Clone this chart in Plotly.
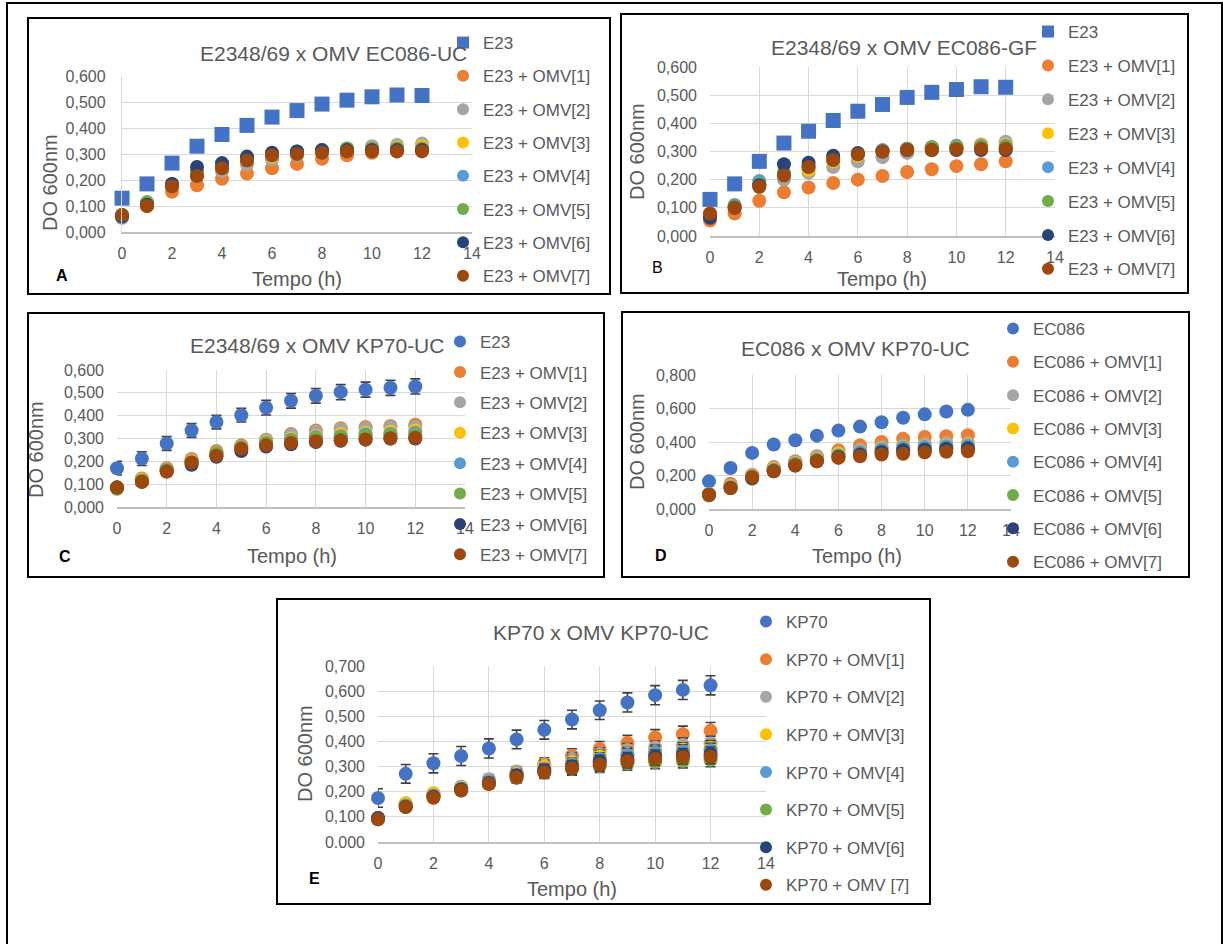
import plotly.graph_objects as go

W, H = 1223, 944

hours = list(range(13))
x_ticks = [0, 2, 4, 6, 8, 10, 12, 14]
x_ticktext = ["0", "2", "4", "6", "8", "10", "12", "14"]

colors = ["#4472C4", "#ED7D31", "#A5A5A5", "#FFC000", "#5B9BD5", "#70AD47", "#264478", "#9E480E"]

# ---------------- Panel A: E2348/69 x OMV EC086-UC ----------------
a_names = ["E23", "E23 + OMV[1]", "E23 + OMV[2]", "E23 + OMV[3]", "E23 + OMV[4]",
           "E23 + OMV[5]", "E23 + OMV[6]", "E23 + OMV[7]"]
a_e23 = [0.130, 0.185, 0.265, 0.330, 0.375, 0.410, 0.442, 0.467, 0.492, 0.507, 0.520, 0.527, 0.525]
a_omv1 = [0.060, 0.100, 0.155, 0.180, 0.205, 0.225, 0.245, 0.262, 0.282, 0.295, 0.305, 0.310, 0.315]
a_omv2 = [0.065, 0.105, 0.175, 0.215, 0.235, 0.260, 0.280, 0.295, 0.310, 0.322, 0.330, 0.335, 0.340]
a_omv3 = [0.065, 0.105, 0.175, 0.220, 0.245, 0.275, 0.290, 0.300, 0.310, 0.315, 0.320, 0.325, 0.330]
a_omv4 = [0.055, 0.105, 0.180, 0.225, 0.250, 0.280, 0.295, 0.305, 0.310, 0.315, 0.315, 0.320, 0.320]
a_omv5 = [0.065, 0.115, 0.185, 0.230, 0.255, 0.285, 0.300, 0.310, 0.315, 0.320, 0.320, 0.320, 0.320]
a_omv6 = [0.060, 0.105, 0.185, 0.250, 0.265, 0.290, 0.305, 0.310, 0.315, 0.315, 0.315, 0.315, 0.315]
a_omv7 = [0.065, 0.100, 0.175, 0.215, 0.245, 0.275, 0.295, 0.300, 0.305, 0.310, 0.310, 0.310, 0.310]
a_series = [a_e23, a_omv1, a_omv2, a_omv3, a_omv4, a_omv5, a_omv6, a_omv7]
a_yticks = [0, 0.1, 0.2, 0.3, 0.4, 0.5, 0.6]
a_yticktext = ["0,000", "0,100", "0,200", "0,300", "0,400", "0,500", "0,600"]

# ---------------- Panel B: E2348/69 x OMV EC086-GF ----------------
b_names = a_names
b_e23 = [0.130, 0.185, 0.265, 0.330, 0.372, 0.410, 0.443, 0.467, 0.492, 0.510, 0.520, 0.530, 0.528]
b_omv1 = [0.055, 0.080, 0.125, 0.155, 0.172, 0.188, 0.200, 0.213, 0.227, 0.237, 0.248, 0.255, 0.265]
b_omv2 = [0.070, 0.100, 0.175, 0.200, 0.225, 0.245, 0.265, 0.280, 0.295, 0.305, 0.315, 0.325, 0.335]
b_omv3 = [0.075, 0.105, 0.180, 0.215, 0.235, 0.265, 0.285, 0.300, 0.310, 0.315, 0.320, 0.325, 0.325]
b_omv4 = [0.075, 0.110, 0.195, 0.225, 0.250, 0.275, 0.290, 0.305, 0.310, 0.315, 0.320, 0.320, 0.320]
b_omv5 = [0.075, 0.105, 0.185, 0.225, 0.245, 0.275, 0.290, 0.300, 0.310, 0.315, 0.315, 0.315, 0.315]
b_omv6 = [0.065, 0.100, 0.180, 0.255, 0.260, 0.285, 0.295, 0.300, 0.305, 0.305, 0.305, 0.305, 0.305]
b_omv7 = [0.080, 0.100, 0.175, 0.215, 0.245, 0.270, 0.290, 0.300, 0.305, 0.305, 0.308, 0.310, 0.310]
b_series = [b_e23, b_omv1, b_omv2, b_omv3, b_omv4, b_omv5, b_omv6, b_omv7]
b_yticks = a_yticks
b_yticktext = a_yticktext

# ---------------- Panel C: E2348/69 x OMV KP70-UC ----------------
c_names = a_names
c_e23 = [0.170, 0.212, 0.278, 0.335, 0.372, 0.402, 0.435, 0.465, 0.487, 0.503, 0.514, 0.522, 0.528]
c_omv1 = [0.085, 0.125, 0.170, 0.210, 0.245, 0.270, 0.295, 0.320, 0.335, 0.345, 0.350, 0.355, 0.360]
c_omv2 = [0.085, 0.120, 0.165, 0.205, 0.240, 0.265, 0.295, 0.315, 0.330, 0.340, 0.345, 0.350, 0.350]
c_omv3 = [0.085, 0.120, 0.160, 0.200, 0.235, 0.260, 0.285, 0.300, 0.310, 0.320, 0.325, 0.330, 0.335]
c_omv4 = [0.085, 0.115, 0.160, 0.195, 0.230, 0.255, 0.280, 0.295, 0.305, 0.310, 0.318, 0.320, 0.325]
c_omv5 = [0.080, 0.115, 0.160, 0.195, 0.235, 0.260, 0.280, 0.290, 0.300, 0.305, 0.310, 0.315, 0.315]
c_omv6 = [0.085, 0.110, 0.155, 0.185, 0.220, 0.245, 0.265, 0.275, 0.285, 0.290, 0.295, 0.300, 0.300]
c_omv7 = [0.085, 0.110, 0.155, 0.195, 0.225, 0.255, 0.270, 0.280, 0.288, 0.292, 0.296, 0.300, 0.303]
c_series = [c_e23, c_omv1, c_omv2, c_omv3, c_omv4, c_omv5, c_omv6, c_omv7]
c_err_e23 = [0.030, 0.030, 0.030, 0.030, 0.030, 0.030, 0.032, 0.032, 0.032, 0.033, 0.033, 0.033, 0.033]
c_err_omv = [0.012, 0.012, 0.012, 0.012, 0.012, 0.014, 0.015, 0.015, 0.016, 0.016, 0.016, 0.017, 0.017]
c_yticks = a_yticks
c_yticktext = a_yticktext

# ---------------- Panel D: EC086 x OMV KP70-UC ----------------
d_names = ["EC086", "EC086 + OMV[1]", "EC086 + OMV[2]", "EC086 + OMV[3]", "EC086 + OMV[4]",
           "EC086 + OMV[5]", "EC086 + OMV[6]", "EC086 + OMV[7]"]
d_ec086 = [0.165, 0.245, 0.335, 0.385, 0.410, 0.438, 0.468, 0.492, 0.518, 0.545, 0.565, 0.582, 0.592]
d_omv1 = [0.090, 0.150, 0.205, 0.250, 0.285, 0.315, 0.350, 0.380, 0.400, 0.420, 0.430, 0.435, 0.440]
d_omv2 = [0.090, 0.140, 0.200, 0.245, 0.280, 0.310, 0.335, 0.355, 0.370, 0.380, 0.390, 0.395, 0.395]
d_omv3 = [0.085, 0.135, 0.200, 0.240, 0.275, 0.300, 0.330, 0.345, 0.360, 0.370, 0.375, 0.380, 0.385]
d_omv4 = [0.085, 0.130, 0.195, 0.235, 0.270, 0.295, 0.320, 0.340, 0.355, 0.365, 0.370, 0.375, 0.378]
d_omv5 = [0.080, 0.125, 0.180, 0.230, 0.265, 0.290, 0.315, 0.325, 0.340, 0.345, 0.350, 0.355, 0.358]
d_omv6 = [0.085, 0.125, 0.185, 0.225, 0.260, 0.285, 0.310, 0.325, 0.340, 0.350, 0.355, 0.360, 0.362]
d_omv7 = [0.085, 0.125, 0.190, 0.225, 0.260, 0.285, 0.305, 0.315, 0.325, 0.330, 0.338, 0.342, 0.345]
d_series = [d_ec086, d_omv1, d_omv2, d_omv3, d_omv4, d_omv5, d_omv6, d_omv7]
d_err_ec086 = [0.012] * 13
d_err_omv = [0.008] * 13
d_yticks = [0, 0.2, 0.4, 0.6, 0.8]
d_yticktext = ["0,000", "0,200", "0,400", "0,600", "0,800"]

# ---------------- Panel E: KP70 x OMV KP70-UC ----------------
e_names = ["KP70", "KP70 + OMV[1]", "KP70 + OMV[2]", "KP70 + OMV[3]", "KP70 + OMV[4]",
           "KP70 + OMV[5]", "KP70 + OMV[6]", "KP70 + OMV [7]"]
e_kp70 = [0.175, 0.271, 0.313, 0.342, 0.372, 0.408, 0.446, 0.487, 0.524, 0.555, 0.584, 0.605, 0.623]
e_omv1 = [0.095, 0.150, 0.190, 0.215, 0.240, 0.272, 0.310, 0.343, 0.370, 0.394, 0.416, 0.429, 0.442]
e_omv2 = [0.095, 0.150, 0.190, 0.220, 0.250, 0.280, 0.305, 0.330, 0.350, 0.366, 0.376, 0.386, 0.392]
e_omv3 = [0.095, 0.155, 0.195, 0.215, 0.240, 0.270, 0.300, 0.320, 0.340, 0.350, 0.360, 0.368, 0.375]
e_omv4 = [0.095, 0.145, 0.185, 0.210, 0.240, 0.265, 0.290, 0.310, 0.330, 0.345, 0.355, 0.360, 0.365]
e_omv5 = [0.090, 0.140, 0.180, 0.205, 0.230, 0.255, 0.275, 0.290, 0.302, 0.312, 0.318, 0.322, 0.327]
e_omv6 = [0.095, 0.140, 0.180, 0.210, 0.235, 0.265, 0.285, 0.300, 0.320, 0.330, 0.340, 0.345, 0.350]
e_omv7 = [0.090, 0.139, 0.176, 0.205, 0.231, 0.257, 0.277, 0.293, 0.308, 0.321, 0.330, 0.337, 0.339]
e_series = [e_kp70, e_omv1, e_omv2, e_omv3, e_omv4, e_omv5, e_omv6, e_omv7]
e_err_kp70 = [0.037, 0.037, 0.038, 0.038, 0.038, 0.037, 0.037, 0.037, 0.037, 0.038, 0.038, 0.038, 0.038]
e_err_omv1 = [0.012, 0.015, 0.018, 0.020, 0.022, 0.024, 0.025, 0.028, 0.030, 0.030, 0.031, 0.032, 0.033]
e_err_omv = [0.010, 0.013, 0.015, 0.016, 0.018, 0.020, 0.022, 0.024, 0.025, 0.026, 0.026, 0.027, 0.028]
e_yticks = [0, 0.1, 0.2, 0.3, 0.4, 0.5, 0.6, 0.7]
e_yticktext = ["0.000", "0,100", "0,200", "0,300", "0,400", "0,500", "0,600", "0,700"]

FONT = "Liberation Sans, Arial, sans-serif"
TXT = "#595959"


def px(v):
    return v / W


def py(v):
    return 1 - v / H


panels = [
    dict(k="", names=a_names, series=a_series, errs=None, yr=[0, 0.6], yt=a_yticks, ytt=a_yticktext,
         box=(122, 472, 76, 232), vgrid=False, sym0="square", legend="legend",
         title="E2348/69 x OMV EC086-UC", tpos=(333, 53), ypos=(50, 183), xpos=(297, 279),
         letter="A", lpos=(62, 275), lbold=True, legpos=(443, 40), leggap=33.3),
    dict(k="2", names=b_names, series=b_series, errs=None, yr=[0, 0.6], yt=b_yticks, ytt=b_yticktext,
         box=(710, 1055, 67, 236), vgrid=True, sym0="square", legend="legend2",
         title="E2348/69 x OMV EC086-GF", tpos=(904, 47), ypos=(637, 152), xpos=(882, 279),
         letter="B", lpos=(657, 267), lbold=False, legpos=(1028, 29), leggap=33.9),
    dict(k="3", names=c_names, series=c_series,
         errs=[c_err_e23] + [c_err_omv] * 7, yr=[0, 0.6], yt=c_yticks, ytt=c_yticktext,
         box=(117, 465, 370, 507), vgrid=True, sym0="circle", legend="legend3",
         title="E2348/69 x OMV KP70-UC", tpos=(317, 345), ypos=(36, 450), xpos=(292, 556),
         letter="C", lpos=(65, 556), lbold=True, legpos=(440, 339), leggap=30.4),
    dict(k="4", names=d_names, series=d_series,
         errs=[d_err_ec086] + [d_err_omv] * 7, yr=[0, 0.8], yt=d_yticks, ytt=d_yticktext,
         box=(709, 1011, 375, 509), vgrid=True, sym0="circle", legend="legend4",
         title="EC086 x OMV KP70-UC", tpos=(855, 349), ypos=(637, 442), xpos=(857, 556),
         letter="D", lpos=(661, 555), lbold=True, legpos=(993, 326), leggap=33.3),
    dict(k="5", names=e_names, series=e_series,
         errs=[e_err_kp70, e_err_omv1] + [e_err_omv] * 6, yr=[0, 0.7], yt=e_yticks, ytt=e_yticktext,
         box=(378, 766, 666, 842), vgrid=True, sym0="circle", legend="legend5",
         title="KP70 x OMV KP70-UC", tpos=(601, 632), ypos=(305, 754), xpos=(572, 889),
         letter="E", lpos=(314, 878), lbold=True, legpos=(746, 619), leggap=37.6),
]

fig = go.Figure()
annotations = []
layout_axes = {}
legends = {}

for p in panels:
    k = p["k"]
    xa = "x" + k
    ya = "y" + k
    for i, (nm, ys) in enumerate(zip(p["names"], p["series"])):
        err = None
        if p["errs"] is not None:
            err = dict(type="data", array=p["errs"][i], color="#404040", thickness=1.6, width=5)
        fig.add_trace(go.Scatter(
            x=hours, y=ys, name=nm, mode="markers",
            marker=dict(color=colors[i], size=15 if (i == 0 and p["sym0"] == "square") else 14,
                        symbol=p["sym0"] if i == 0 else "circle", line=dict(width=0)),
            error_y=err, xaxis=xa, yaxis=ya, cliponaxis=False,
            legend=p["legend"], legendgroup=p["legend"] + str(i),
        ))
    x0, x14, ytop, ybot = p["box"]
    xkey = "xaxis" + k
    ykey = "yaxis" + k
    layout_axes[xkey] = dict(
        domain=[px(x0), px(x14)], range=[0, 14], anchor=ya,
        tickvals=x_ticks, ticktext=x_ticktext, showgrid=p["vgrid"], gridcolor="#D9D9D9", gridwidth=1.3,
        showline=True, linecolor="#BFBFBF", linewidth=1.5, zeroline=False, ticks="",
        tickfont=dict(family=FONT, size=16, color=TXT), ticklabelstandoff=6, fixedrange=True,
    )
    layout_axes[ykey] = dict(
        domain=[py(ybot), py(ytop)], range=p["yr"], anchor=xa,
        tickvals=p["yt"], ticktext=p["ytt"], showgrid=True, gridcolor="#D9D9D9", gridwidth=1.3,
        showline=not p["vgrid"], linecolor="#D9D9D9", linewidth=1.3, zeroline=False, ticks="",
        tickfont=dict(family=FONT, size=16, color=TXT), ticklabelstandoff=12, fixedrange=True,
    )
    lx, ly = p["legpos"]
    legends[p["legend"]] = dict(
        x=px(lx), y=py(ly - 15), xanchor="left", yanchor="top",
        font=dict(family=FONT, size=17, color=TXT), bgcolor="rgba(0,0,0,0)",
        itemsizing="constant", traceorder="grouped", tracegroupgap=p["leggap"] - 25.1,
        borderwidth=0,
    )
    annotations.append(dict(text=p["title"], x=px(p["tpos"][0]), y=py(p["tpos"][1]), xref="paper",
                            yref="paper", showarrow=False, xanchor="center", yanchor="middle",
                            font=dict(family=FONT, size=21, color=TXT)))
    annotations.append(dict(text="DO 600nm", x=px(p["ypos"][0]), y=py(p["ypos"][1]), xref="paper",
                            yref="paper", showarrow=False, xanchor="center", yanchor="middle",
                            textangle=-90, font=dict(family=FONT, size=20, color=TXT)))
    annotations.append(dict(text="Tempo (h)", x=px(p["xpos"][0]), y=py(p["xpos"][1]), xref="paper",
                            yref="paper", showarrow=False, xanchor="center", yanchor="middle",
                            font=dict(family=FONT, size=20, color=TXT)))
    lt = "<b>%s</b>" % p["letter"] if p["lbold"] else p["letter"]
    annotations.append(dict(text=lt, x=px(p["lpos"][0]), y=py(p["lpos"][1]), xref="paper",
                            yref="paper", showarrow=False, xanchor="center", yanchor="middle",
                            font=dict(family=FONT, size=16, color="#000000")))

frames = [
    (7, 3, 1222, 960),
    (28, 18, 610, 294),
    (621, 14, 1188, 293),
    (28, 313, 604, 577),
    (622, 312, 1189, 577),
    (277, 599, 930, 904),
]
shapes = []
for (fx0, fy0, fx1, fy1) in frames:
    shapes.append(dict(type="rect", xref="paper", yref="paper", x0=px(fx0), x1=px(fx1),
                       y0=py(fy1), y1=py(fy0), line=dict(color="#000000", width=2),
                       fillcolor="rgba(0,0,0,0)", layer="above"))

fig.update_layout(
    width=W, height=H, margin=dict(l=0, r=0, t=0, b=0, autoexpand=False),
    paper_bgcolor="white", plot_bgcolor="white",
    showlegend=True, annotations=annotations, shapes=shapes,
    **layout_axes, **legends,
)

fig.write_html("out.html", config={"displayModeBar": False},
               post_script="document.body.style.margin='0';")
